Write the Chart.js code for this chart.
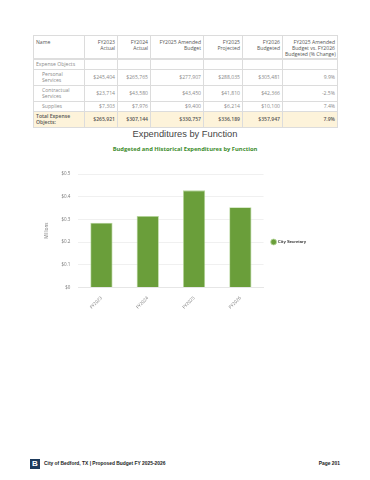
<!DOCTYPE html>
<html>
<head>
<meta charset="utf-8">
<script src="https://cdn.jsdelivr.net/npm/chart.js@4"></script>
<style>
  html,body{margin:0;padding:0;background:#fff;}
  body{width:370px;height:480px;position:relative;overflow:hidden;font-family:"Open Sans",Lato,sans-serif;}
  #tbl{position:absolute;left:33px;top:35px;width:304px;border-collapse:collapse;table-layout:fixed;font-size:5.1px;color:#8a8a8a;}
  #tbl td,#tbl th{border:0.6px solid #dcdcdc;padding:0 2px;overflow:hidden;white-space:nowrap;}
  #tbl th{font-weight:400;color:#555;vertical-align:top;padding-top:3px;text-align:right;line-height:6px;height:19px;border-bottom:2px solid #dedede;}
  #tbl th.name{text-align:left;}
  #tbl td{text-align:right;line-height:5.8px;}
  #tbl td.name{text-align:left;}
  #tbl td.ind{padding-left:8px;}
  #tbl tr.sec td{height:9px;}
  #tbl tr.r2 td{height:15px;}
  #tbl tr.r1 td{height:9px;}
  #tbl tr.tot td{height:15px;background:#fdf3da;color:#555;font-weight:600;}
  #title{position:absolute;left:0;width:370px;top:128.5px;text-align:center;font-family:"Liberation Sans",Arial,sans-serif;font-size:9.3px;line-height:11px;color:#444;}
  #sub{position:absolute;left:0;width:370px;top:144.5px;text-align:center;font-family:"Open Sans",sans-serif;font-weight:700;font-size:5.8px;line-height:8px;color:#3c8c2c;}
  #wrap{position:absolute;left:0;top:160px;width:370px;height:160px;}
  #logo{position:absolute;left:30px;top:459px;width:10px;height:10px;background:#1d3a5c;color:#fff;font:bold 8px "Liberation Sans",Arial,sans-serif;text-align:center;line-height:10px;}
  #foot{position:absolute;left:44px;top:461px;font:bold 4.9px/6px "Liberation Sans",Arial,sans-serif;color:#222;}
  #page{position:absolute;right:30px;top:461px;font:bold 4.9px/6px "Liberation Sans",Arial,sans-serif;color:#222;}
</style>
</head>
<body>
<table id="tbl"></table>
<div id="title">Expenditures by Function</div>
<div id="sub">Budgeted and Historical Expenditures by Function</div>
<div id="wrap"><canvas id="c" width="370" height="160"></canvas></div>
<div id="logo">B</div>
<div id="foot">City of Bedford, TX | Proposed Budget FY 2025-2026</div>
<div id="page">Page 201</div>
<script>
// ---- Table data ----
const tableHeaders = ["Name","FY2023<br>Actual","FY2024<br>Actual","FY2025 Amended<br>Budget","FY2025<br>Projected","FY2026<br>Budgeted","FY2025 Amended<br>Budget vs. FY2026<br>Budgeted (% Change)"];
const rowNames = ["Personal<br>Services","Contractual<br>Services","Supplies"];
const fy2023Actual = ["$245,404","$23,714","$7,303"];
const fy2024Actual = ["$265,765","$43,580","$7,976"];
const fy2025Amended = ["$277,907","$43,450","$9,400"];
const fy2025Projected = ["$288,035","$41,810","$6,214"];
const fy2026Budgeted = ["$305,481","$42,366","$10,100"];
const pctChange = ["9.9%","-2.5%","7.4%"];
const totalRow = ["Total Expense<br>Objects:","$265,921","$307,144","$330,757","$336,189","$357,947","7.9%"];
const colWidths = [51,33,33,53,39,40,55];

// ---- Chart data ----
const categories = ["FY2023","FY2024","FY2025","FY2026"];
const seriesName = "City Secretary";
const citySecretary = [0.285,0.315,0.428,0.354];
const yTicks = [0,0.1,0.2,0.3,0.4,0.5];

// build table
const tbl = document.getElementById('tbl');
let html = '<colgroup>' + colWidths.map(w=>'<col style="width:'+w+'px">').join('') + '</colgroup>';
html += '<tr>' + tableHeaders.map((h,i)=>'<th class="'+(i===0?'name':'')+'">'+h+'</th>').join('') + '</tr>';
html += '<tr class="sec"><td class="name">Expense Objects</td><td></td><td></td><td></td><td></td><td></td><td></td></tr>';
rowNames.forEach((n,i)=>{
  const cls = n.indexOf('<br>')>=0 ? 'r2' : 'r1';
  html += '<tr class="'+cls+'"><td class="name ind">'+n+'</td><td>'+fy2023Actual[i]+'</td><td>'+fy2024Actual[i]+'</td><td>'+fy2025Amended[i]+'</td><td>'+fy2025Projected[i]+'</td><td>'+fy2026Budgeted[i]+'</td><td>'+pctChange[i]+'</td></tr>';
});
html += '<tr class="tot">' + totalRow.map((v,i)=>'<td class="'+(i===0?'name':'')+'">'+v+'</td>').join('') + '</tr>';
tbl.innerHTML = html;

// chart
new Chart(document.getElementById('c'), {
  type: 'bar',
  data: {
    labels: categories,
    datasets: [{
      label: seriesName,
      data: citySecretary,
      backgroundColor: '#6a9e3a',
      borderColor: '#b9d99f',
      borderWidth: 0.8,
      barPercentage: 0.48,
      categoryPercentage: 1
    }]
  },
  options: {
    responsive: false,
    devicePixelRatio: 1,
    animation: false,
    layout: { padding: { top: 14, bottom: 10, left: 40, right: 54 } },
    plugins: {
      tooltip: { enabled: false },
      legend: {
        position: 'right',
        align: 'center',
        labels: {
          usePointStyle: true,
          pointStyle: 'circle',
          boxWidth: 5, boxHeight: 5,
          padding: 8,
          color: '#333',
          font: { family: 'Liberation Sans', size: 4.2, weight: '700' }
        }
      }
    },
    scales: {
      y: {
        min: 0, max: 0.5,
        afterBuildTicks: (s) => { s.ticks = yTicks.map(v => ({ value: v })); },
        ticks: {
          callback: (v) => '$' + (v === 0 ? '0' : v.toFixed(1)),
          color: '#777',
          font: { family: 'Open Sans', size: 4.5 },
          padding: 8
        },
        grid: { color: '#ececec', drawTicks: false, lineWidth: 0.8 },
        border: { display: false },
        title: { display: true, text: 'Millions', color: '#777', font: { family: 'Open Sans', size: 4.5 }, padding: 4 }
      },
      x: {
        grid: { display: false },
        border: { color: '#e6e6e6' },
        ticks: {
          minRotation: 45, maxRotation: 45,
          color: '#777',
          font: { family: 'Open Sans', size: 4.5 },
          padding: 0
        }
      }
    }
  }
});
</script>
</body>
</html>
